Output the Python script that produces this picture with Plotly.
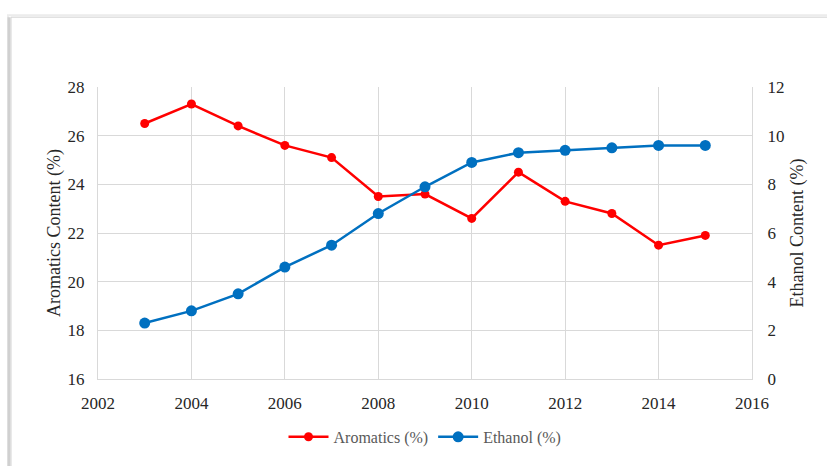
import plotly.graph_objects as go

years = [2003, 2004, 2005, 2006, 2007, 2008, 2009, 2010, 2011, 2012, 2013, 2014, 2015]
aromatics = [26.5, 27.3, 26.4, 25.6, 25.1, 23.5, 23.6, 22.6, 24.5, 23.3, 22.8, 21.5, 21.9]
ethanol = [2.3, 2.8, 3.5, 4.6, 5.5, 6.8, 7.9, 8.9, 9.3, 9.4, 9.5, 9.6, 9.6]

x_ticks = [2002, 2004, 2006, 2008, 2010, 2012, 2014, 2016]
left_ticks = [16, 18, 20, 22, 24, 26, 28]
right_ticks = [0, 2, 4, 6, 8, 10, 12]

FONT = "Liberation Serif, Times New Roman, serif"
TXT = "#262626"

fig = go.Figure()
fig.add_trace(go.Scatter(
    x=years, y=aromatics, name="Aromatics (%)", mode="lines+markers",
    line=dict(color="#FF0000", width=2.5),
    marker=dict(color="#FF0000", size=9),
))
fig.add_trace(go.Scatter(
    x=years, y=ethanol, name="Ethanol (%)", mode="lines+markers", yaxis="y2",
    line=dict(color="#0070C0", width=2.5),
    marker=dict(color="#0070C0", size=11),
))

grid = "#d9d9d9"
fig.update_layout(
    width=827, height=466,
    margin=dict(l=98, r=75, t=87, b=82),
    paper_bgcolor="white", plot_bgcolor="white",
    font=dict(family=FONT, size=17, color=TXT),
    showlegend=True,
    legend=dict(orientation="h", x=0.5, xanchor="center", y=-0.14, yanchor="top",
                font=dict(family=FONT, size=16, color="#595959"),
                itemwidth=40, tracegroupgap=0),
    xaxis=dict(range=[2002, 2016], tickvals=x_ticks, showgrid=True, gridcolor=grid,
               gridwidth=1, zeroline=False, showline=True, linecolor=grid, mirror=False,
               ticks="", ticklabelstandoff=9, tickfont=dict(size=17, color=TXT)),
    yaxis=dict(range=[16, 28], tickvals=left_ticks, showgrid=True, gridcolor=grid,
               gridwidth=1, zeroline=False, showline=True, linecolor=grid, ticks="",
               ticklabelstandoff=9,
               title=dict(text="Aromatics Content (%)", font=dict(size=18, color=TXT), standoff=2),
               tickfont=dict(size=17, color=TXT)),
    yaxis2=dict(range=[0, 12], tickvals=right_ticks, overlaying="y", side="right",
                showgrid=False, zeroline=False, showline=True, linecolor=grid, ticks="",
                ticklabelstandoff=11,
                title=dict(text="Ethanol Content (%)", font=dict(size=18, color=TXT), standoff=6),
                tickfont=dict(size=17, color=TXT)),
    shapes=[
        dict(type="rect", xref="paper", yref="paper",
             x0=(8 - 98) / 654, x1=(850 - 98) / 654,
             y0=(384 - 490) / 297, y1=(384 - 14) / 297,
             line=dict(color="#ececec", width=2), layer="below"),
        dict(type="line", xref="paper", yref="paper",
             x0=(9 - 98) / 654, x1=(9 - 98) / 654,
             y0=(384 - 490) / 297, y1=(384 - 16) / 297,
             line=dict(color="#d0d0d0", width=3), layer="below"),
        dict(type="rect", xref="paper", yref="paper",
             x0=(11 - 98) / 654, x1=(850 - 98) / 654,
             y0=(384 - 490) / 297, y1=(384 - 16) / 297,
             line=dict(color="#d4d4d4", width=1), layer="below"),
    ],
)

fig.write_html("out.html")
